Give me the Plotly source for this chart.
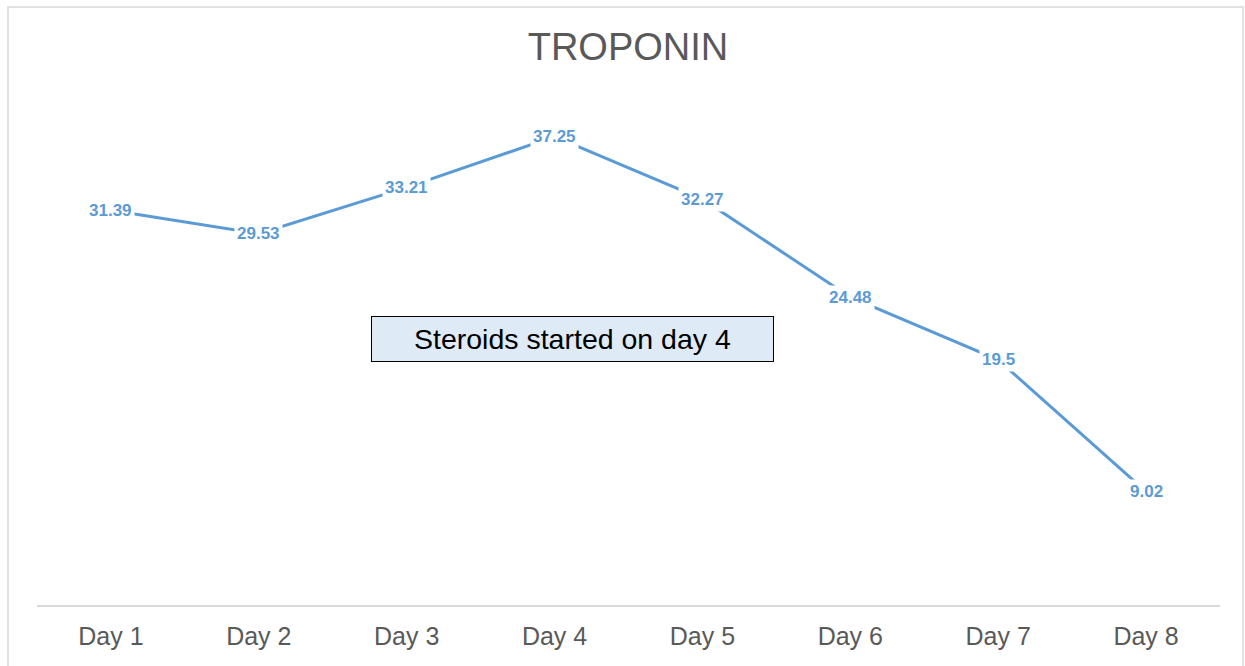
import plotly.graph_objects as go

days = ["Day 1", "Day 2", "Day 3", "Day 4", "Day 5", "Day 6", "Day 7", "Day 8"]
troponin = [31.39, 29.53, 33.21, 37.25, 32.27, 24.48, 19.5, 9.02]
labels = ["31.39", "29.53", "33.21", "37.25", "32.27", "24.48", "19.5", "9.02"]
title_text = "TROPONIN"
note_text = "Steroids started on day 4"

W, H = 1245, 666
L, R, T, B = 37, 1245 - 1220, 102, 666 - 605
pw, ph = W - L - R, H - T - B

def px_x(p):
    return (p - L) / pw

def px_y(p):
    return (H - B - p) / ph

BLUE = "#5B9BD5"
FONT = "Arial, Liberation Sans, sans-serif"

fig = go.Figure()
fig.add_trace(go.Scatter(
    x=list(range(len(days))), y=troponin, mode="lines",
    line=dict(color=BLUE, width=3), hoverinfo="skip", showlegend=False,
))

for i, (v, t) in enumerate(zip(troponin, labels)):
    fig.add_annotation(
        x=i, y=v, xref="x", yref="y", text=f"<b>{t}</b>", showarrow=False,
        font=dict(family=FONT, size=17, color=BLUE),
        bgcolor="white", borderpad=2,
    )

fig.add_annotation(
    x=px_x(572.5), y=px_y(339), xref="paper", yref="paper",
    text=note_text, showarrow=False,
    font=dict(family=FONT, size=28.5, color="#000000"),
    bgcolor="#DEEBF7", bordercolor="#000000", borderwidth=1,
    width=399, height=42, xanchor="center", yanchor="middle",
)

# outer chart frame
fig.add_shape(
    type="rect", xref="paper", yref="paper",
    x0=px_x(8), x1=px_x(1243), y0=px_y(680), y1=px_y(7),
    line=dict(color="#D9D9D9", width=1.5), layer="below",
)

fig.update_layout(
    width=W, height=H,
    margin=dict(l=L, r=R, t=T, b=B),
    paper_bgcolor="white", plot_bgcolor="white",
    title=dict(
        text=title_text, x=628 / W, y=1 - 47 / H, xref="container", yref="container",
        xanchor="center", yanchor="middle",
        font=dict(family=FONT, size=38, color="#595959"),
    ),
    xaxis=dict(
        range=[-0.5, 7.5], tickmode="array", tickvals=list(range(len(days))),
        ticktext=days, showgrid=False, zeroline=False,
        showline=True, linecolor="#D9D9D9", linewidth=1.5,
        ticks="", ticklabelstandoff=8,
        tickfont=dict(family=FONT, size=25, color="#595959"),
        fixedrange=True,
    ),
    yaxis=dict(range=[0, 40], visible=False, showgrid=False, zeroline=False, fixedrange=True),
)

fig.write_html(
    "out.html",
    config={"displayModeBar": False},
    post_script="document.body.style.margin='0px';document.body.style.overflow='hidden';",
)
